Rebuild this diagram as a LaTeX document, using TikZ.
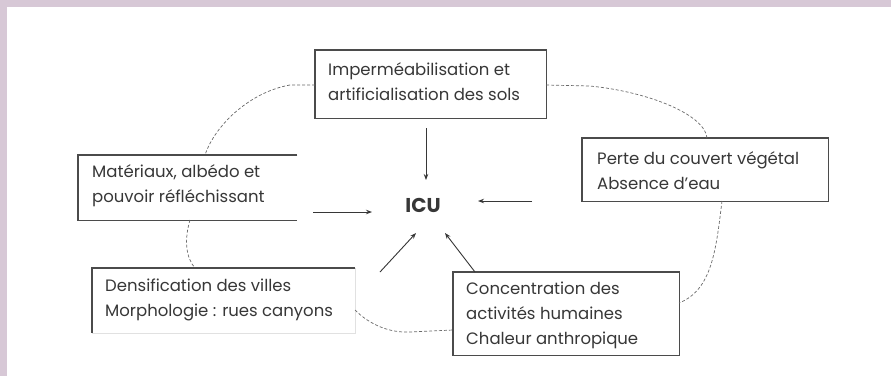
\documentclass[tikz,border=0pt]{standalone}
\usepackage{fontspec}
\setmainfont{Poppins}
\usetikzlibrary{arrows.meta}
\definecolor{lilac}{RGB}{215,200,214}
\definecolor{ink}{RGB}{55,55,55}
\definecolor{edge}{RGB}{75,75,75}
\definecolor{faint}{RGB}{225,225,225}
\definecolor{dashc}{RGB}{105,105,105}
\tikzset{
  boxshape/.style={rectangle, draw=none, anchor=north west, inner sep=0pt},
  boxline/.style={draw=edge, line width=1.4pt},
  faintline/.style={draw=faint, line width=1pt},
  txt/.style={anchor=west, align=left, inner sep=0pt, text=ink, font=\fontsize{16.5}{25}\selectfont},
  link/.style={draw=dashc, line width=0.7pt, dash pattern=on 3pt off 2pt},
  arr/.style={draw=ink, line width=0.9pt, -{Stealth[length=6pt,width=4.5pt]}},
}
\begin{document}
\begin{tikzpicture}[x=1pt,y=-1pt]
\useasboundingbox (0,0) rectangle (891,376);
\fill[white] (0,0) rectangle (891,376);
\fill[lilac] (0,0) rectangle (891,7);
\fill[lilac] (0,0) rectangle (7,376);

% boxes
\node[boxshape, minimum width=231pt, minimum height=68pt] (top) at (315,50) {};
\draw[boxline] (top.north west) rectangle (top.south east);
\node[txt] (toptxt) at (328,82) {Imperméabilisation et\\artificialisation des sols};

\node[boxshape, minimum width=219pt, minimum height=65pt] (left) at (78,155) {};
\draw[boxline] (left.north east) -- (left.north west) -- (left.south west) -- (left.south east);
\node[txt] (lefttxt) at (92,186) {Matériaux, albédo et\\pouvoir réfléchissant};

\node[boxshape, minimum width=246pt, minimum height=63pt] (right) at (582,138) {};
\draw[boxline] (right.north west) rectangle (right.south east);
\node[txt] (righttxt) at (597,171) {Perte du couvert végétal\\Absence d’eau};

\node[boxshape, minimum width=263pt, minimum height=65pt] (bl) at (92,268) {};
\draw[faintline] (bl.north east) -- (bl.south east) -- (bl.south west);
\draw[boxline] (bl.north east) -- (bl.north west) -- (bl.south west);
\node[txt] (bltxt) at (105,300) {Densification des villes\\Morphologie : rues canyons};

\node[boxshape, minimum width=226pt, minimum height=83pt] (br) at (453,272) {};
\draw[boxline] (br.north west) rectangle (br.south east);
\node[txt] (brtxt) at (466,315) {Concentration des\\activités humaines\\Chaleur anthropique};

% ICU
\node[inner sep=0pt, text=ink, font=\fontsize{20}{22}\selectfont\bfseries] (icu) at (423,205) {ICU};

% arrow end points
\coordinate (a1s) at (426,128); \coordinate (a1e) at (426,180);
\coordinate (a2s) at (313,212); \coordinate (a2e) at (372,212);
\coordinate (a3s) at (532,201); \coordinate (a3e) at (478,201);
\coordinate (a4s) at (380,272); \coordinate (a4e) at (416,233);
\coordinate (a5s) at (475,272); \coordinate (a5e) at (445,233);
\draw[arr] (a1s) -- (a1e);
\draw[arr] (a2s) -- (a2e);
\draw[arr] (a3s) -- (a3e);
\draw[arr] (a4s) -- (a4e);
\draw[arr] (a5s) -- (a5e);

% dashed cycle
\coordinate (c1) at (315,85); \coordinate (c1b) at (290,85); \coordinate (c1e) at (205,155);
\draw[link] (c1) -- (c1b) .. controls (250,92) and (215,125) .. (c1e);
\coordinate (c2) at (546,85); \coordinate (c2b) at (590,86); \coordinate (c2e) at (707,138);
\draw[link] (c2) -- (c2b) .. controls (650,92) and (705,115) .. (c2e);
\coordinate (c3) at (722,201); \coordinate (c3e) at (679,303);
\draw[link] (c3) .. controls (716,250) and (712,290) .. (c3e);
\coordinate (c4) at (355,310); \coordinate (c4e) at (453,330);
\draw[link] (c4) .. controls (370,325) and (390,333) .. (410,332) -- (c4e);
\coordinate (c5) at (190,220); \coordinate (c5e) at (195,268);
\draw[link] (c5) .. controls (184,240) and (186,258) .. (c5e);
\end{tikzpicture}
\end{document}
